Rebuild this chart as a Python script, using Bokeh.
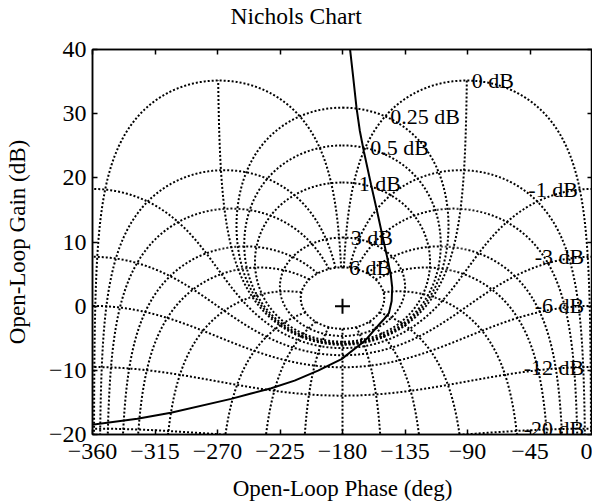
import numpy as np
from bokeh.plotting import figure
from bokeh.models import Range1d, FixedTicker, LinearAxis, Title
from bokeh.embed import file_html
from bokeh.resources import INLINE
from bokeh.core.properties import value

# ---- Nichols grid definition (closed-loop levels) ----
cl_gains_db = [6, 3, 1, 0.5, 0.25, 0, -1, -3, -6, -12, -20, -40]
cl_phases_deg = [-1, -5, -10, -20, -30, -50, -90, -120, -150, -180,
                 -210, -240, -270, -310, -330, -340, -350, -355, -359]
labelled_gains_db = [6, 3, 1, 0.5, 0.25, 0, -1, -3, -6, -12, -20]

# ---- open-loop response ----
resp_phase = [-174.8, -172.5, -169.9, -167.5, -164.6, -159.5, -154.7, -151.3,
              -147.8, -145.3, -144.2, -144.6, -146.6, -150.0, -153.0, -163.9,
              -180.7, -197.6, -214.5, -231.3, -245.8, -260.2, -303.6, -327.7,
              -361.4]
resp_gain = [40.5, 36.1, 30.9, 27.3, 24.1, 19.0, 14.4, 11.0,
             7.6, 5.0, 2.9, 0.8, -1.1, -2.0, -2.7, -5.4,
             -8.25, -10.05, -11.6, -12.8, -13.6, -14.45, -16.6, -17.55,
             -18.5]

x_ticks = [-360, -315, -270, -225, -180, -135, -90, -45, 0]
y_ticks = [-20, -10, 0, 10, 20, 30, 40]

TITLE = "Nichols Chart"
FONT = "Liberation Serif"
FS_TITLE = "23.5px"
FS_LABEL = "23px"
FS_TICK = "24px"
FS_GRID = "22px"


def open_loop(mag_db, psi_deg):
    T = 10 ** (np.asarray(mag_db) / 20.0) * np.exp(1j * np.radians(psi_deg))
    G = T / (1 - T)
    ph = np.degrees(np.unwrap(np.atleast_1d(np.angle(G))))
    c = (ph.max() + ph.min()) / 2.0
    ph = ph - 360.0 * (np.floor(c / 360.0) + 1)
    return ph, 20 * np.log10(np.abs(np.atleast_1d(G)))


xs, ys = [], []
# constant closed-loop gain curves
for g in cl_gains_db:
    if g == 0:
        psi = np.linspace(-1, -359, 3000)
    else:
        psi = np.linspace(0, -360, 3000)
    ph, gn = open_loop(np.full(psi.shape, g, dtype=float), psi)
    xs.append(ph.tolist())
    ys.append(gn.tolist())

# constant closed-loop phase curves
m_db = np.concatenate([np.linspace(max(cl_gains_db), 0.5, 1500),
                       np.linspace(0.5, -0.5, 4000),
                       np.linspace(-0.5, -60, 2500)])
for psi0 in cl_phases_deg:
    ph, gn = open_loop(m_db, np.full(m_db.shape, psi0, dtype=float))
    xs.append(ph.tolist())
    ys.append(gn.tolist())

p = figure(width=592, height=504, x_range=Range1d(-360, 0), y_range=Range1d(-20, 40),
           output_backend="svg", toolbar_location=None, title=None)
p.min_border_left = 92
p.min_border_right = 0
p.min_border_top = 48
p.min_border_bottom = 70
p.grid.visible = False
p.background_fill_color = "white"
p.border_fill_color = "white"
p.outline_line_color = "black"
p.outline_line_width = 1.5

p.multi_line(xs, ys, line_color="black", line_width=2, line_dash="2 2")

# labels on gain curves, placed where they meet the -1 deg closed-loop phase curve
pos_x, pos_y, pos_t, neg_x, neg_y, neg_t = [], [], [], [], [], []
for g in labelled_gains_db:
    ph, gn = open_loop(g, -1.0)
    if g >= 0:
        pos_x.append(float(ph[0])); pos_y.append(float(gn[0])); pos_t.append(f"{g:g} dB")
    else:
        neg_x.append(min(float(ph[0]), -4.5)); neg_y.append(float(gn[0])); neg_t.append(f"{g:g} dB")

p.text(pos_x, pos_y, text=pos_t, text_align="left", text_baseline="middle", x_offset=5,
       text_font=value(FONT), text_font_size=FS_GRID, text_color="black")
p.text(neg_x, neg_y, text=neg_t, text_align="right", text_baseline="middle", x_offset=-2,
       text_font=value(FONT), text_font_size=FS_GRID, text_color="black")

p.line(resp_phase, resp_gain, line_color="black", line_width=2)
p.scatter([-180], [0], marker="cross", size=15, line_width=2, line_color="black")

p.xaxis.ticker = FixedTicker(ticks=x_ticks)
p.yaxis.ticker = FixedTicker(ticks=y_ticks)
p.xaxis.axis_label = "Open-Loop Phase (deg)"
p.yaxis.axis_label = "Open-Loop Gain (dB)"
for ax in (p.xaxis[0], p.yaxis[0]):
    ax.axis_label_text_font = FONT
    ax.axis_label_text_font_size = FS_LABEL
    ax.axis_label_text_font_style = "normal"
    ax.axis_label_text_color = "black"
    ax.major_label_text_font = FONT
    ax.major_label_text_font_size = FS_TICK
    ax.major_label_text_color = "black"
    ax.major_tick_in = 5
    ax.major_tick_out = 0
    ax.minor_tick_line_color = None
    ax.axis_line_width = 1.5
    ax.major_tick_line_width = 1.5
    ax.axis_line_color = "black"
    ax.major_tick_line_color = "black"
p.xaxis.major_label_standoff = 9
p.xaxis.axis_label_standoff = 14
p.yaxis.major_label_standoff = 6
p.yaxis.axis_label_standoff = 16

# box ticks on top/right
top = LinearAxis(ticker=FixedTicker(ticks=x_ticks), major_label_text_font_size="0px",
                 major_label_standoff=0, major_tick_in=5, major_tick_out=0,
                 minor_tick_line_color=None, axis_line_width=1.5, major_tick_line_width=1.5)
right = LinearAxis(ticker=FixedTicker(ticks=y_ticks), major_label_text_font_size="0px",
                   major_label_standoff=0, major_tick_in=5, major_tick_out=0,
                   minor_tick_line_color=None, axis_line_width=1.5, major_tick_line_width=1.5)
p.add_layout(top, "above")
p.add_layout(right, "right")

# empty spacer title between the frame and the chart title
p.add_layout(Title(text=" ", text_font_size="1px", standoff=18), "above")
p.add_layout(Title(text=TITLE, align="left", offset=138, standoff=0,
                   text_font=FONT, text_font_size=FS_TITLE, text_font_style="normal",
                   text_color="black"), "above")

open("out.html", "w").write(file_html(p, INLINE))
